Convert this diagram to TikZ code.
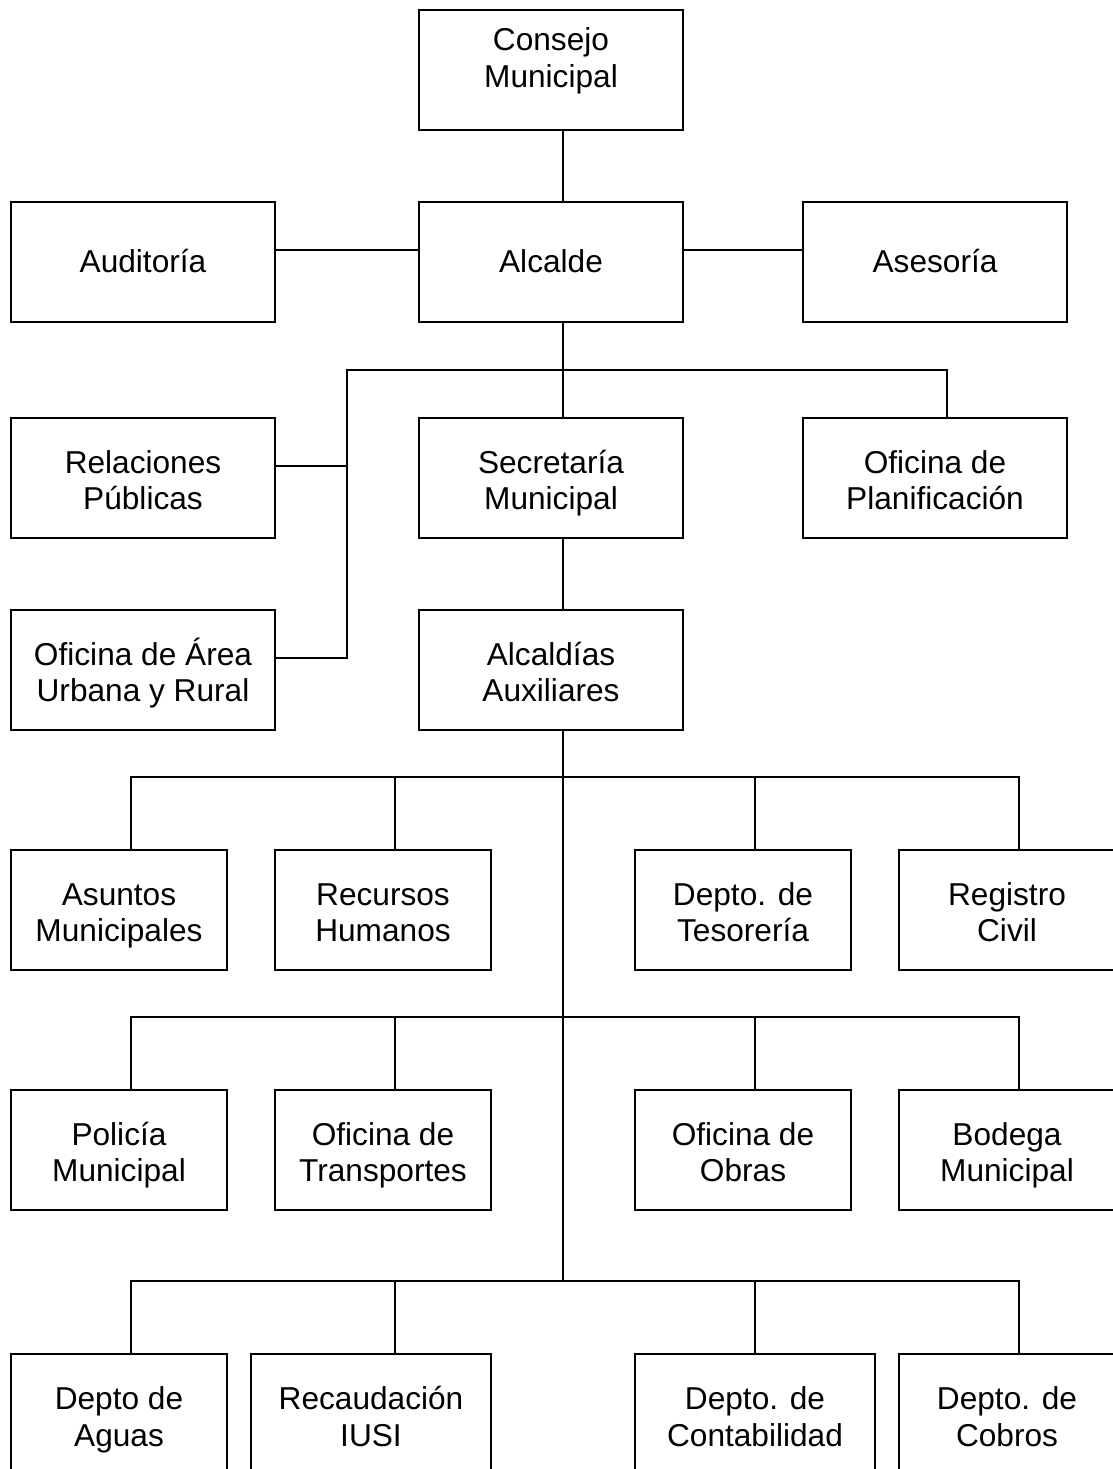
\documentclass[tikz,border=0pt]{standalone}
\usepackage{fontspec}
\setmainfont{Liberation Sans}
\usetikzlibrary{positioning}
\tikzset{
    unit/.style={rectangle, minimum width=5.28cm, minimum height=2.4cm, text centered, draw, line width=1pt, align=center,
        font=\fontsize{18}{21}\selectfont, text height=41.4pt, text depth=5pt},
    oneline/.style={text height=17.4pt, text depth=5pt},
    subunit/.style={unit, minimum width=4.32cm},
    midunit/.style={unit, minimum width=4.8cm},
    link/.style={draw, line width=0.8pt}
}

\begin{document}
\begin{tikzpicture}
    \useasboundingbox (0,0) rectangle (22.24,-29.38);
    \coordinate (spine) at (11.26,0);
    \coordinate (branch) at (6.94,-7.40);

    % Top
    \node[unit, text height=24.7pt] (consejo) at (11.02,-1.40) {Consejo\\ Municipal};

    % Mayor and staff
    \node[unit, oneline] (auditoria) at (2.86,-5.24) {Auditoría};
    \node[unit, oneline] (alcalde) at (11.02,-5.24) {Alcalde};
    \node[unit, oneline] (asesoria) at (18.70,-5.24) {Asesoría};

    % Second level
    \node[unit] (relaciones) at (2.86,-9.56) {Relaciones\\ Públicas};
    \node[unit] (secretaria) at (11.02,-9.56) {Secretaría\\ Municipal};
    \node[unit] (planificacion) at (18.70,-9.56) {Oficina de\\ Planificación};
    \node[unit] (area_urbana) at (2.86,-13.40) {Oficina de Área\\ Urbana y Rural};
    \node[unit] (alcaldias) at (11.02,-13.40) {Alcaldías\\ Auxiliares};

    % Departments, first row
    \node[subunit] (asuntos) at (2.38,-18.20) {Asuntos\\ Municipales};
    \node[subunit] (recursos) at (7.66,-18.20) {Recursos\\ Humanos};
    \node[subunit] (tesoreria) at (14.86,-18.20) {Depto. de\\ Tesorería};
    \node[subunit] (registro) at (20.14,-18.20) {Registro\\ Civil};

    % Departments, second row
    \node[subunit] (policia) at (2.38,-23.00) {Policía\\ Municipal};
    \node[subunit] (transportes) at (7.66,-23.00) {Oficina de\\ Transportes};
    \node[subunit] (obras) at (14.86,-23.00) {Oficina de\\ Obras};
    \node[subunit] (bodega) at (20.14,-23.00) {Bodega\\ Municipal};

    % Departments, third row
    \node[subunit] (aguas) at (2.38,-28.28) {Depto de\\ Aguas};
    \node[midunit] (recaudacion) at (7.42,-28.28) {Recaudación\\ IUSI};
    \node[midunit] (contabilidad) at (15.10,-28.28) {Depto. de\\ Contabilidad};
    \node[subunit] (cobros) at (20.14,-28.28) {Depto. de\\ Cobros};

    % Links, upper part
    \draw[link] (consejo.south -| spine) -- (alcalde.north -| spine);
    \draw[link] ([yshift=.24cm]auditoria.east) -- ([yshift=.24cm]alcalde.west);
    \draw[link] ([yshift=.24cm]alcalde.east) -- ([yshift=.24cm]asesoria.west);
    \draw[link] (alcalde.south -| spine) -- (secretaria.north -| spine);
    \draw[link] ([xshift=.24cm]planificacion.north) |- (branch) |- ([yshift=.24cm]area_urbana.east);
    \draw[link] ([yshift=.24cm]relaciones.east) -- ++(1.44,0);
    \draw[link] (secretaria.south -| spine) -- (alcaldias.north -| spine);

    % Links, departments
    \draw[link] ([xshift=.24cm]asuntos.north) -- ++(0,1.44) -| ([xshift=.24cm]registro.north);
    \draw[link] ([xshift=.24cm]recursos.north) -- ++(0,1.44);
    \draw[link] ([xshift=.24cm]tesoreria.north) -- ++(0,1.44);
    \draw[link] ([xshift=.24cm]policia.north) -- ++(0,1.44) -| ([xshift=.24cm]bodega.north);
    \draw[link] ([xshift=.24cm]transportes.north) -- ++(0,1.44);
    \draw[link] ([xshift=.24cm]obras.north) -- ++(0,1.44);
    \draw[link] ([xshift=.24cm]aguas.north) -- ++(0,1.44) coordinate (bus_low) -| ([xshift=.24cm]cobros.north);
    \draw[link] ([xshift=.48cm]recaudacion.north) -- ++(0,1.44);
    \draw[link] (contabilidad.north) -- ++(0,1.44);
    \draw[link] (alcaldias.south -| spine) -- (bus_low -| spine);
\end{tikzpicture}
\end{document}
